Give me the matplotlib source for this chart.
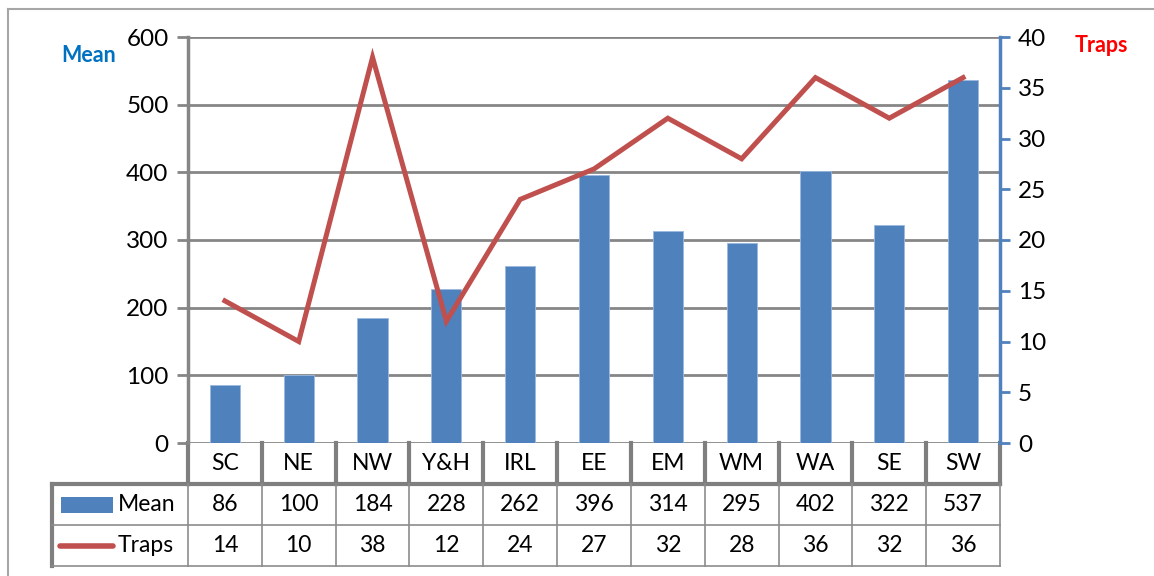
import matplotlib.pyplot as plt
from matplotlib.lines import Line2D
from matplotlib.patches import Rectangle

plt.rcParams['font.family'] = ['Lato', 'DejaVu Sans']

regions = ['SC', 'NE', 'NW', 'Y&H', 'IRL', 'EE', 'EM', 'WM', 'WA', 'SE', 'SW']
mean = [86, 100, 184, 228, 262, 396, 314, 295, 402, 322, 537]
traps = [14, 10, 38, 12, 24, 27, 32, 28, 36, 32, 36]

bar_col = '#4F81BD'
line_col = '#C0504D'
grid_col = '#868686'

fig = plt.figure(figsize=(11.54, 5.76), dpi=100)
ax = fig.add_axes([188 / 1154, 1 - 443 / 576, 812 / 1154, 406 / 576])
ax2 = ax.twinx()

x = list(range(len(regions)))
ax.bar(x, mean, width=0.41, color=bar_col, edgecolor='#9BB8E0', linewidth=0.6, zorder=3)
ax.set_xlim(-0.5, len(regions) - 0.5)
ax.set_ylim(0, 600)
ax.set_yticks(range(0, 601, 100))
ax.yaxis.grid(True, color=grid_col, linewidth=2, zorder=0)
ax.set_axisbelow(True)
ax.set_xticks([])
ax.tick_params(axis='y', length=8, width=2, color=grid_col, labelsize=17.5, pad=6)
for s in ['top', 'right', 'bottom']:
    ax.spines[s].set_visible(False)
ax.spines['left'].set_color(grid_col)
ax.spines['left'].set_linewidth(2.5)

ax2.plot(x, traps, color=line_col, linewidth=3.6, zorder=4, solid_joinstyle='miter')
ax2.set_ylim(0, 40)
ax2.set_yticks(range(0, 41, 5))
ax2.tick_params(axis='y', length=7, width=2, color=bar_col, labelsize=17.5, pad=6)
for s in ['top', 'left', 'bottom']:
    ax2.spines[s].set_visible(False)
ax2.spines['right'].set_color(bar_col)
ax2.spines['right'].set_linewidth(2.5)

fig.text(61 / 1154, 1 - 55 / 576, 'Mean', color='#0070C0', fontsize=15.5,
         fontweight='bold', va='center', ha='left')
fig.text(1075 / 1154, 1 - 45 / 576, 'Traps', color='#FF0000', fontsize=15.5,
         fontweight='bold', va='center', ha='left')

# data table under the axis
n = len(regions)
rh = 41 / 406
lab_left = -136 / 812
tr = ax.transAxes
kw = dict(transform=tr, clip_on=False)
thick = dict(color='#7F7F7F', linewidth=3, **kw)
thin = dict(color='#8C8C8C', linewidth=1.2, **kw)

# header row
ax.add_line(Line2D([0, 1], [-rh, -rh], **thick))
for i in range(n + 1):
    ax.add_line(Line2D([i / n, i / n], [0, -rh], **thick))
for i, r in enumerate(regions):
    ax.text((i + 0.5) / n, -rh / 2, r, ha='center', va='center', fontsize=16.5, transform=tr)

# value rows
ax.add_line(Line2D([lab_left, 0], [-rh, -rh], **thick))
ax.add_line(Line2D([lab_left, lab_left], [-rh, -3 * rh], **thick))
ax.add_line(Line2D([lab_left, 1], [-2 * rh, -2 * rh], **thin))
ax.add_line(Line2D([lab_left, 1], [-3 * rh, -3 * rh], **thin))
for i in range(n + 1):
    ax.add_line(Line2D([i / n, i / n], [-rh, -3 * rh], **thin))
for i in range(n):
    ax.text((i + 0.5) / n, -1.5 * rh, str(mean[i]), ha='center', va='center',
            fontsize=16.5, transform=tr)
    ax.text((i + 0.5) / n, -2.5 * rh, str(traps[i]), ha='center', va='center',
            fontsize=16.5, transform=tr)

# legend keys
ax.add_patch(Rectangle((-127 / 812, -1.5 * rh - 8 / 406), 52 / 812, 16 / 406,
                       facecolor=bar_col, edgecolor='none', **kw))
ax.add_line(Line2D([-128 / 812, -75 / 812], [-2.5 * rh, -2.5 * rh], color=line_col,
                   linewidth=4, solid_capstyle='round', **kw))
ax.text(-70 / 812, -1.5 * rh, 'Mean', ha='left', va='center', fontsize=16.5, transform=tr)
ax.text(-70 / 812, -2.5 * rh, 'Traps', ha='left', va='center', fontsize=16.5, transform=tr)

# chart border
fig.add_artist(Line2D([8 / 1154, 8 / 1154], [0, 1 - 9 / 576], color='#A6A6A6',
                      linewidth=1.5, transform=fig.transFigure))
fig.add_artist(Line2D([8 / 1154, 1], [1 - 9 / 576, 1 - 9 / 576], color='#A6A6A6',
                      linewidth=1.5, transform=fig.transFigure))

fig.savefig('out.png', dpi=100)
